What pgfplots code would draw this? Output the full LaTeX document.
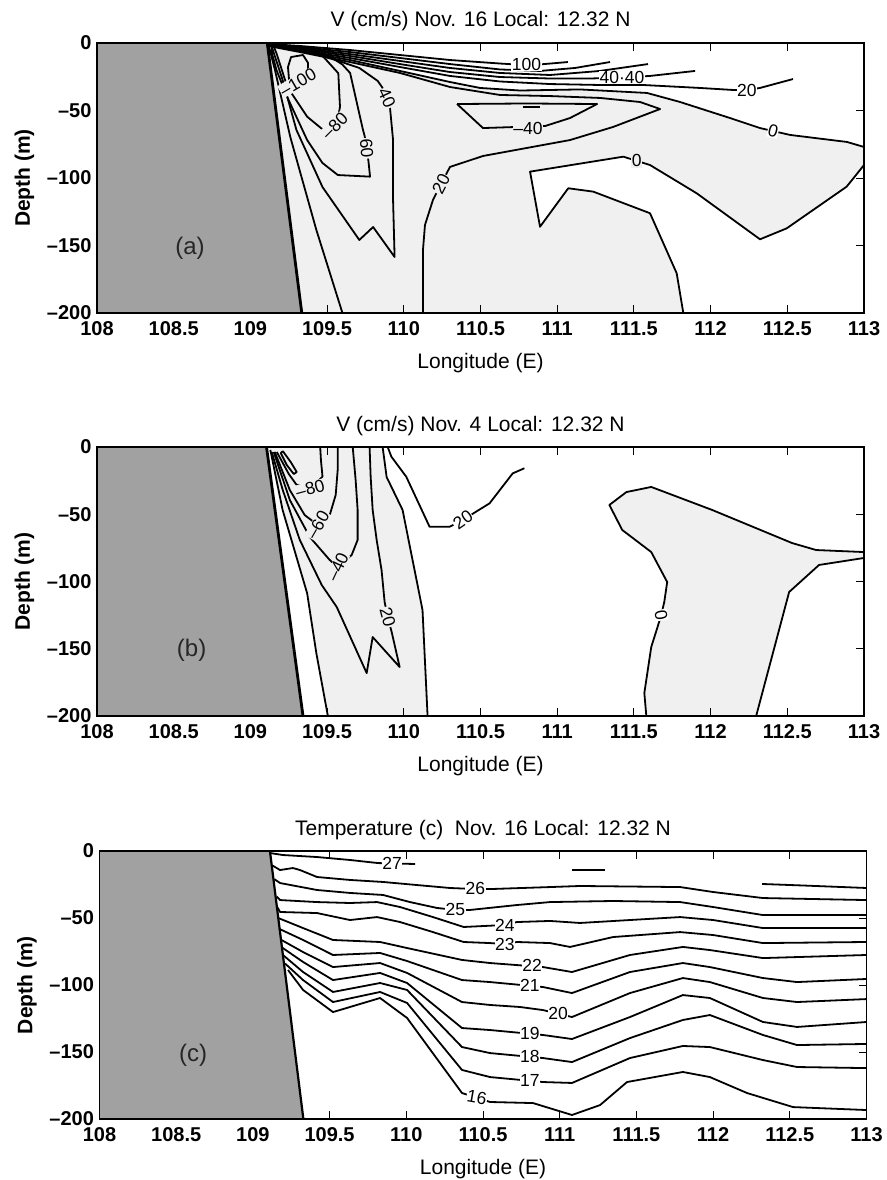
\documentclass[border=0pt]{standalone}
\usepackage{fontspec}
\setmainfont{Liberation Sans}
\usepackage{pgfplots}
\pgfplotsset{compat=1.18}
\definecolor{land}{gray}{0.63}
\definecolor{lgray}{gray}{0.94}
\newcommand\fs[1]{\fontsize{#1}{#1}\selectfont}
\pgfplotsset{
 panel/.style={
  set layers=standard, clip mode=individual,
  scale only axis, width=767pt,
  xmin=108, xmax=113, ymin=-200, ymax=0,
  xtick={108,108.5,109,109.5,110,110.5,111,111.5,112,112.5,113},
  xticklabels={108,108.5,109,109.5,110,110.5,111,111.5,112,112.5,113},
  ytick={-200,-150,-100,-50,0},
  yticklabels={\textendash200,\textendash150,\textendash100,\textendash50,0},
  xtick pos=both, ytick pos=both, xticklabel pos=lower, yticklabel pos=left,
  tick align=inside, major tick length=8pt,
  every tick/.style={black, line width=1pt},
  axis line style={line width=1.3pt},
  tick label style={font=\fs{20}\bfseries},
  xticklabel style={yshift=-5pt},
  yticklabel style={xshift=-2pt},
 },
 ct/.style={black, line width=1.8pt, line join=round},
 bg/.style={draw=none, on layer=axis background},
}
\tikzset{cl/.style={font=\fs{17.5}, inner sep=0.6pt, fill=white},
 cg/.style={cl, fill=lgray},
 ttl/.style={font=\fs{21}, anchor=base},
 pl/.style={font=\fs{24}, text=black!85}}
\begin{document}
\begin{tikzpicture}
%================ (a)
\begin{axis}[panel, height=270pt, at={(97pt,-313pt)}, anchor=south west]
\addplot[bg, fill=lgray] coordinates {(108,0) (113,0) (113,-200) (108,-200)} --cycle;
\addplot[bg, fill=white] coordinates {(109.11,0) (109.323,-5.9) (109.649,-12.6) (109.975,-20.7) (110.301,-28.9) (110.497,-33.3) (110.758,-35.2) (111.149,-34.4) (111.585,-37.0) (111.801,-43.7) (112.127,-55.6) (112.322,-63.0) (112.518,-68.1) (112.889,-73.3) (113,-77.0) (113,0)} --cycle;
\addplot[bg, fill=white] coordinates {(113,-90.4) (112.887,-106.4) (112.496,-137.3) (112.322,-145.4) (111.909,-111.3) (111.605,-90.4) (111.431,-84.2) (110.823,-95.3) (110.888,-136.1) (111.072,-107.6) (111.235,-110.1) (111.605,-126.1) (111.779,-170.6) (111.822,-200) (113,-200)} --cycle;
\addplot[fill=land, draw=none] coordinates {(108,0) (109.11,0) (109.335,-200) (108,-200)} --cycle;
% right-hand contours
\addplot[ct] coordinates {(113,-90.4) (112.887,-106.4) (112.496,-137.3) (112.322,-145.4) (111.909,-111.3) (111.605,-90.4) (111.431,-84.2) (110.823,-95.3) (110.888,-136.1) (111.072,-107.6) (111.235,-110.1) (111.605,-126.1) (111.779,-170.6) (111.822,-200)};
\addplot[ct] coordinates {(109.115,-1.5) (109.323,-5.9) (109.649,-12.6) (109.975,-20.7) (110.301,-28.9) (110.497,-33.3) (110.758,-35.2) (111.149,-34.4) (111.585,-37.0) (111.801,-43.7) (112.127,-55.6) (112.322,-63.0) (112.518,-68.1) (112.889,-73.3) (113,-77.0)};
\addplot[ct] coordinates {(109.115,-0.7) (109.323,-2.2) (109.649,-5.2) (109.975,-8.9) (110.301,-12.6) (110.627,-15.2) (110.712,-15.8) (110.894,-15.8) (111.070,-14.1)};
\addplot[ct] coordinates {(109.115,-0.7) (109.323,-3.0) (109.649,-6.7) (109.975,-11.1) (110.301,-15.6) (110.627,-19.6) (110.888,-20.7) (111.116,-18.5) (111.344,-14.1)};
\addplot[ct] coordinates {(109.115,-1.5) (109.323,-3.7) (109.649,-8.2) (109.975,-13.3) (110.301,-18.5) (110.627,-22.2) (110.953,-23.7) (111.279,-20.7) (111.592,-15.6)};
\addplot[ct] coordinates {(109.115,-1.5) (109.323,-4.4) (109.649,-9.6) (109.975,-15.6) (110.301,-21.5) (110.627,-25.2) (110.953,-26.3) (111.214,-26.3) (111.422,-25.6) (111.605,-24.4) (111.899,-20.7)};
\addplot[ct] coordinates {(109.115,-1.5) (109.323,-5.2) (109.649,-11.1) (109.975,-17.8) (110.301,-24.4) (110.627,-28.5) (110.953,-30.4) (111.279,-31.1) (111.559,-31.1) (111.931,-33.3) (112.146,-34.8) (112.237,-34.8) (112.322,-33.3) (112.537,-26.7)};
\addplot[ct] coordinates {(109.115,-2.2) (109.323,-6.7) (109.649,-14.1) (109.975,-22.2) (110.301,-32.6) (110.627,-38.5) (110.953,-39.3) (111.279,-40.7) (111.540,-43.7) (111.671,-48.9) (111.364,-62.2) (111.083,-71.9) (110.516,-83.7) (110.301,-91.8) (110.243,-104.4) (110.190,-116.3) (110.138,-134.8) (110.125,-153.3) (110.125,-200)};
\addplot[ct] coordinates {(110.347,-45.2) (110.516,-63.0) (110.921,-61.5) (111.083,-55.6) (111.260,-45.2) (110.8,-44.8) (110.347,-45.2)};
\addplot[ct] coordinates {(110.777,-47.6) (110.888,-47.6)};
% near-coast contours
\addplot[ct] coordinates {(109.12,-2.2) (109.16,-20) (109.26,-69.6) (109.43,-138.5) (109.60,-200)};
\addplot[ct] coordinates {(109.14,-3) (109.21,-27.4) (109.30,-64.4) (109.47,-106.7) (109.71,-145.9) (109.80,-136.3) (109.94,-158.5) (109.93,-116.3) (109.93,-71.9) (109.91,-48) (109.89,-40.7) (109.86,-33) (109.83,-28.1) (109.71,-18.5) (109.58,-13.5) (109.39,-7) (109.19,-2.5)};
\addplot[ct] coordinates {(109.14,-3) (109.14,-7.4) (109.17,-20) (109.24,-40) (109.37,-71.9) (109.47,-88.9) (109.57,-97.8) (109.78,-99) (109.77,-88) (109.758,-78) (109.745,-69) (109.734,-64.4) (109.70,-47.4) (109.65,-22.2) (109.60,-16) (109.52,-10) (109.32,-4.5) (109.15,-1.5)};
\addplot[ct] coordinates {(109.15,-2) (109.17,-7.6) (109.24,-32.4) (109.37,-54.6) (109.475,-64.4) (109.563,-61.1) (109.584,-47.2) (109.573,-22.4) (109.475,-10.1) (109.367,-5.2) (109.2,-1.5)};
\addplot[ct] coordinates {(109.376,-23.7) (109.376,-14.8) (109.343,-8.9) (109.265,-10.4) (109.245,-17.8) (109.252,-27.4) (109.30,-31.5) (109.35,-29.5) (109.376,-23.7)};
\addplot[black, line width=2.8pt] coordinates {(109.11,0) (109.335,-200)};
\draw[line width=1.3pt] (rel axis cs:0,0) rectangle (rel axis cs:1,1);
\node[cl] at (axis cs:110.80,-15.8) {100};
\node[cl] at (axis cs:111.422,-25.6) {40·40};
\node[cl] at (axis cs:112.237,-34.8) {20};
\node[cl, rotate=-15] at (axis cs:112.407,-65.2) {0};
\node[cg] at (axis cs:111.518,-87.3) {0};
\node[cg] at (axis cs:110.810,-63.0) {\textendash40};
\node[cg, rotate=63] at (axis cs:110.243,-104.4) {20};
\node[cg, rotate=-65] at (axis cs:109.89,-40.7) {40};
\node[cg, rotate=-85] at (axis cs:109.758,-78) {60};
\node[cg, rotate=45] at (axis cs:109.55,-61.5) {\textendash80};
\node[cg, rotate=30] at (axis cs:109.31,-29) {\textendash100};
\node[pl] at (axis cs:108.606,-151.9) {(a)};
\node[ttl] at (rel axis cs:0.5,1.0593) {V (cm/s) Nov. 16 Local: 12.32 N};
\node[ttl] at (rel axis cs:0.5,-0.2037) {Longitude (E)};
\node[ttl, rotate=90, font=\fs{21}\bfseries] at (rel axis cs:-0.0874,0.5) {Depth (m)};
\end{axis}
%================ (b)
\begin{axis}[panel, height=269pt, at={(97pt,-716pt)}, anchor=south west]
\addplot[bg, fill=lgray] coordinates {(109.105,0) (109.13,-2.2) (109.21,-46.8) (109.37,-108.8) (109.43,-153.4) (109.505,-200) (110.155,-200) (110.122,-121.2) (109.992,-46.8) (109.888,-22.3) (109.862,0)} --cycle;
\addplot[bg, fill=lgray] coordinates {(111.581,-200) (111.568,-182.9) (111.613,-148.7) (111.652,-134.6) (111.698,-115.2) (111.717,-100.4) (111.613,-78.1) (111.424,-61.7) (111.340,-43.1) (111.451,-33.5) (111.613,-29.7) (112.010,-46.8) (112.531,-71.4) (112.688,-76.6) (113,-78.1) (113,-82.5) (112.707,-87.7) (112.512,-107.8) (112.297,-200)} --cycle;
\addplot[fill=land, draw=none] coordinates {(108,0) (109.105,0) (109.343,-200) (108,-200)} --cycle;
\addplot[ct] coordinates {(109.13,-2.2) (109.21,-46.8) (109.37,-108.8) (109.43,-153.4) (109.505,-200)};
\addplot[ct] coordinates {(109.862,0) (109.888,-22.3) (109.992,-46.8) (110.122,-121.2) (110.155,-200)};
\addplot[ct] coordinates {(109.139,-3.7) (109.211,-32.0) (109.322,-69.1) (109.465,-102.6) (109.563,-119.0) (109.758,-168.1) (109.797,-141.3) (109.973,-163.6) (109.921,-137.6) (109.895,-126.4) (109.875,-115.2) (109.855,-91.5) (109.823,-69.1) (109.797,-46.8) (109.784,-22.3) (109.777,0)};
\addplot[ct] coordinates {(109.152,-3.7) (109.257,-39.4) (109.387,-66.9) (109.517,-84.0) (109.569,-89.2) (109.660,-80.3) (109.699,-69.1) (109.699,-46.8) (109.686,-24.5) (109.667,0)};
\addplot[ct] coordinates {(109.159,-3.7) (109.257,-32.0) (109.354,-50.6) (109.439,-58.0) (109.517,-50.6) (109.556,-35.7) (109.569,-17.1) (109.569,0)};
\addplot[ct] coordinates {(109.172,-3.7) (109.25,-20) (109.30,-28) (109.39,-31) (109.47,-22) (109.46,-10) (109.455,0)};
\addplot[ct] coordinates {(109.211,-3.0) (109.263,-11.2) (109.302,-18.6) (109.283,-20.1) (109.237,-13.4) (109.198,-4.5) (109.211,-3.0)};
\addplot[ct] coordinates {(109.895,0) (109.919,-7.2) (110.016,-22.1) (110.168,-59.3) (110.298,-59.3) (110.385,-54.3) (110.468,-48.3) (110.559,-41.9) (110.710,-19.6) (110.786,-15.8)};
\addplot[ct] coordinates {(113,-78.1) (112.688,-76.6) (112.531,-71.4) (112.010,-46.8) (111.613,-29.7) (111.451,-33.5) (111.340,-43.1) (111.424,-61.7) (111.613,-78.1) (111.717,-100.4) (111.698,-115.2) (111.678,-124.9) (111.652,-134.6) (111.613,-148.7) (111.568,-182.9) (111.581,-200)};
\addplot[ct] coordinates {(113,-82.5) (112.707,-87.7) (112.512,-107.8) (112.297,-200)};
\addplot[black, line width=2.8pt] coordinates {(109.105,0) (109.343,-200)};
\draw[line width=1.3pt] (rel axis cs:0,0) rectangle (rel axis cs:1,1);
\node[cg, rotate=15] at (axis cs:109.39,-31) {\textendash80};
\node[cg, rotate=60] at (axis cs:109.439,-58.0) {\textendash60};
\node[cg, rotate=65] at (axis cs:109.569,-89.2) {\textendash40};
\node[cg, rotate=-75] at (axis cs:109.895,-126.4) {20};
\node[cl, rotate=35] at (axis cs:110.385,-54.3) {20};
\node[cl, rotate=-80] at (axis cs:111.678,-124.9) {0};
\node[pl] at (axis cs:108.617,-150.9) {(b)};
\node[ttl] at (rel axis cs:0.5,1.0595) {V (cm/s) Nov. 4 Local: 12.32 N};
\node[ttl] at (rel axis cs:0.5,-0.2045) {Longitude (E)};
\node[ttl, rotate=90, font=\fs{21}\bfseries] at (rel axis cs:-0.0874,0.5) {Depth (m)};
\end{axis}
%================ (c)
\begin{axis}[panel, height=268pt, at={(99.5pt,-1119pt)}, anchor=south west]
\addplot[fill=land, draw=none] coordinates {(108,0) (109.111,0) (109.329,-200) (108,-200)} --cycle;
\addplot[ct] coordinates {(109.111,-1.5) (109.196,-3.0) (109.418,-4.5) (109.633,-6.7) (109.816,-9.0) (110.057,-9.7)};
\addplot[ct] coordinates {(111.080,-14.2) (111.295,-14.2)};
\addplot[ct] coordinates {(112.319,-24.6) (112.6,-25.8) (113,-27.6)};
\addplot[ct] coordinates {(109.13,-11) (109.177,-14.2) (109.261,-12.7) (109.307,-14.2) (109.418,-19.4) (109.633,-21.6) (109.848,-23.1) (110.070,-25.4) (110.285,-27.6) (110.45,-28.4) (110.546,-28.4) (110.937,-26.9) (111.132,-26.1) (111.785,-26.9) (112.0,-30.6) (112.325,-35.1) (113,-36.6)};
\addplot[ct] coordinates {(109.14,-21) (109.177,-23.9) (109.418,-29.1) (109.633,-31.3) (109.848,-32.8) (110.024,-38.1) (110.200,-42.5) (110.32,-44.0) (110.415,-44.0) (110.722,-40.3) (110.937,-38.1) (111.348,-37.3) (111.785,-38.1) (112.0,-41.8) (112.325,-47.8) (113,-47.8)};
\addplot[ct] coordinates {(109.155,-34) (109.177,-36.6) (109.418,-38.1) (109.633,-38.8) (109.809,-38.1) (109.959,-41.8) (110.174,-49.3) (110.374,-56.7) (110.643,-55.2) (110.722,-53.0) (110.937,-52.2) (111.132,-53.7) (111.785,-49.3) (112.0,-51.5) (112.325,-57.5) (113,-57.5)};
\addplot[ct] coordinates {(109.16,-42) (109.177,-45.5) (109.418,-46.3) (109.633,-51.5) (109.809,-49.3) (109.959,-53.0) (110.174,-60.5) (110.374,-67.9) (110.546,-68.7) (110.643,-69.5) (110.722,-67.9) (110.937,-68.7) (111.067,-71.6) (111.348,-64.2) (111.785,-60.5) (112.0,-62.7) (112.325,-68.7) (113,-67.9)};
\addplot[ct] coordinates {(109.165,-50) (109.327,-57.5) (109.522,-66.4) (109.829,-67.9) (110.005,-72.4) (110.363,-81.3) (110.546,-83.6) (110.891,-86.6) (111.080,-90.3) (111.458,-77.6) (111.803,-71.6) (111.979,-73.9) (112.325,-79.9) (113,-77.6)};
\addplot[ct] coordinates {(109.17,-58) (109.327,-66.4) (109.522,-77.6) (109.829,-76.1) (110.005,-82.1) (110.363,-96.3) (110.546,-97.8) (110.891,-101.5) (111.080,-106.0) (111.458,-90.3) (111.803,-83.6) (111.979,-86.6) (112.325,-94.8) (112.547,-97.8) (113,-95.5)};
\addplot[ct] coordinates {(109.18,-66) (109.327,-75.4) (109.522,-86.6) (109.829,-83.6) (110.005,-91.0) (110.363,-112.7) (110.546,-114.9) (110.741,-116.4) (110.891,-118.7) (111.080,-123.9) (111.458,-106.0) (111.803,-94.8) (111.979,-97.8) (112.325,-109.7) (112.547,-112.7) (113,-110.5)};
\addplot[ct] coordinates {(109.19,-72) (109.327,-82.8) (109.522,-96.3) (109.829,-91.0) (110.005,-98.5) (110.363,-132.1) (110.546,-133.6) (110.891,-137.3) (111.080,-140.3) (111.458,-123.9) (111.803,-107.5) (111.979,-109.7) (112.325,-127.6) (112.547,-131.3) (113,-127.6)};
\addplot[ct] coordinates {(109.20,-78) (109.327,-90.3) (109.522,-105.2) (109.829,-98.5) (110.005,-103.7) (110.363,-146.3) (110.546,-150.8) (110.891,-154.5) (111.080,-157.5) (111.458,-139.6) (111.803,-126.1) (111.979,-122.4) (112.325,-137.3) (112.547,-144.8) (113,-144.0)};
\addplot[ct] coordinates {(109.21,-84) (109.327,-96.3) (109.522,-112.7) (109.829,-105.2) (110.005,-113.4) (110.363,-163.4) (110.546,-168.7) (110.891,-172.4) (111.080,-173.1) (111.458,-154.5) (111.803,-145.5) (111.979,-146.3) (112.325,-156.0) (112.547,-161.2) (113,-162.0)};
\addplot[ct] coordinates {(109.229,-88.8) (109.327,-103.7) (109.522,-120.2) (109.829,-109.7) (110.005,-124.6) (110.363,-180.6) (110.546,-187.3) (110.826,-188.1) (111.080,-197.0) (111.263,-189.6) (111.439,-172.4) (111.803,-164.9) (111.979,-168.7) (112.221,-180.6) (112.521,-191.1) (113,-193.3)};
\addplot[black, line width=2.2pt] coordinates {(109.111,0) (109.329,-200)};
\draw[line width=1.3pt] (rel axis cs:0,0) rectangle (rel axis cs:1,1);
\node[cl] at (axis cs:109.907,-9.0) {27};
\node[cl] at (axis cs:110.45,-28.2) {26};
\node[cl] at (axis cs:110.32,-43.6) {25};
\node[cl] at (axis cs:110.643,-55.2) {24};
\node[cl] at (axis cs:110.643,-69.5) {23};
\node[cl] at (axis cs:110.82,-85.3) {22};
\node[cl] at (axis cs:110.806,-100.6) {21};
\node[cl] at (axis cs:110.989,-121.4) {20};
\node[cl] at (axis cs:110.806,-136.4) {19};
\node[cl] at (axis cs:110.806,-153.6) {18};
\node[cl] at (axis cs:110.806,-171.5) {17};
\node[cl, rotate=-10] at (axis cs:110.46,-184.1) {16};
\node[pl] at (axis cs:108.610,-152.2) {(c)};
\node[ttl] at (rel axis cs:0.5,1.0597) {Temperature (c) \ Nov. 16 Local: 12.32 N};
\node[ttl] at (rel axis cs:0.5,-0.2052) {Longitude (E)};
\node[ttl, rotate=90, font=\fs{21}\bfseries] at (rel axis cs:-0.0874,0.5) {Depth (m)};
\end{axis}
\pgfresetboundingbox
\path (0,0) rectangle (886pt,-1180pt);
\end{tikzpicture}
\end{document}
